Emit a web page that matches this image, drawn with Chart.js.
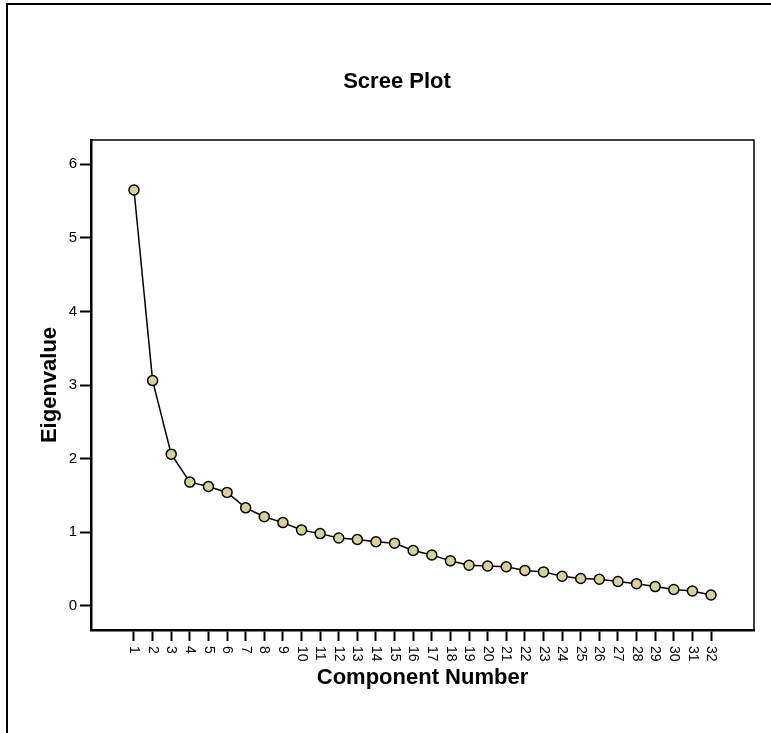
<!DOCTYPE html>
<html>
<head>
<meta charset="utf-8">
<title>Scree Plot</title>
<script src="https://cdn.jsdelivr.net/npm/chart.js@4.4.0/dist/chart.umd.min.js"></script>
<style>
  body { margin: 0; background: #fff; }
  canvas { display: block; }
</style>
</head>
<body>
<canvas id="scree" width="771" height="733"></canvas>
<script>
// component numbers and eigenvalues
const components = [1, 2, 3, 4, 5, 6, 7, 8, 9, 10, 11, 12, 13, 14, 15, 16,
  17, 18, 19, 20, 21, 22, 23, 24, 25, 26, 27, 28, 29, 30, 31, 32];
const eigenvalues = [5.65, 3.06, 2.06, 1.68, 1.62, 1.54, 1.33, 1.21, 1.13, 1.03,
  0.98, 0.92, 0.90, 0.87, 0.85, 0.75, 0.69, 0.61, 0.55, 0.54, 0.53, 0.48,
  0.46, 0.40, 0.37, 0.36, 0.33, 0.30, 0.26, 0.22, 0.20, 0.145];
const yTicks = [0, 1, 2, 3, 4, 5, 6];
const chartTitle = 'Scree Plot';

const fontFamily = "Arial, 'Liberation Sans', sans-serif";

// outer frame (top + left only), title, box round the plot, x labels
const framePlugin = {
  id: 'frame',
  beforeDraw(chart) {
    const ctx = chart.ctx;
    ctx.save();
    ctx.fillStyle = '#000';
    ctx.fillRect(6, 3, 2, 730);
    ctx.fillRect(6, 3, 765, 2);
    ctx.restore();
  },
  afterDraw(chart) {
    const ctx = chart.ctx;
    const a = chart.chartArea;
    ctx.save();
    ctx.strokeStyle = '#000';
    ctx.lineWidth = 1.5;
    ctx.beginPath();
    ctx.moveTo(a.left, a.top);
    ctx.lineTo(a.right, a.top);
    ctx.lineTo(a.right, a.bottom);
    ctx.stroke();

    // title
    ctx.fillStyle = '#000';
    ctx.font = 'bold 22px ' + fontFamily;
    ctx.textAlign = 'center';
    ctx.textBaseline = 'alphabetic';
    ctx.fillText(chartTitle, 397, 88);

    // x tick labels, turned to read top-to-bottom
    const xs = chart.scales.x;
    ctx.font = '14px ' + fontFamily;
    ctx.textAlign = 'left';
    ctx.textBaseline = 'middle';
    components.forEach(c => {
      const px = xs.getPixelForValue(c);
      ctx.save();
      ctx.translate(px, xs.top + 16);
      ctx.rotate(Math.PI / 2);
      ctx.fillText(String(c), 0, 0);
      ctx.restore();
    });
    ctx.restore();
  }
};

const ctx = document.getElementById('scree').getContext('2d');
new Chart(ctx, {
  type: 'line',
  data: {
    datasets: [{
      data: components.map((c, i) => ({ x: c, y: eigenvalues[i] })),
      borderColor: '#000',
      borderWidth: 1.5,
      tension: 0,
      pointRadius: 5,
      pointBorderWidth: 1.5,
      pointBorderColor: '#000',
      pointBackgroundColor: '#d8d09c'
    }]
  },
  options: {
    responsive: false,
    animation: false,
    layout: { padding: { left: 0, right: 17, top: 140, bottom: 0 } },
    plugins: {
      legend: { display: false },
      tooltip: { enabled: false },
      title: { display: false }
    },
    scales: {
      x: {
        type: 'linear',
        min: -1.31,
        max: 34.31,
        afterBuildTicks: scale => { scale.ticks = components.map(v => ({ value: v })); },
        afterFit: scale => { scale.height = 103; },
        border: { display: true, color: '#000', width: 2.5 },
        grid: { drawOnChartArea: false, drawTicks: true, tickLength: 11, tickColor: '#000', tickWidth: 2 },
        ticks: { display: false },
        title: {
          display: true,
          text: 'Component Number',
          color: '#000',
          font: { family: fontFamily, size: 22, weight: 'bold', lineHeight: 1.2 },
          padding: { top: 0, bottom: 41.8 }
        }
      },
      y: {
        type: 'linear',
        min: -0.33,
        max: 6.33,
        afterBuildTicks: scale => { scale.ticks = yTicks.map(v => ({ value: v })); },
        afterFit: scale => { scale.width = 91; },
        border: { display: true, color: '#000', width: 2.5 },
        grid: { drawOnChartArea: false, drawTicks: true, tickLength: 11, tickColor: '#000', tickWidth: 2 },
        ticks: {
          color: '#000',
          padding: 3,
          font: { family: fontFamily, size: 15 }
        },
        title: {
          display: true,
          text: 'Eigenvalue',
          color: '#000',
          font: { family: fontFamily, size: 22, weight: 'bold', lineHeight: 1.2 },
          padding: { top: 36.8, bottom: 0 }
        }
      }
    }
  },
  plugins: [framePlugin]
});
</script>
</body>
</html>
